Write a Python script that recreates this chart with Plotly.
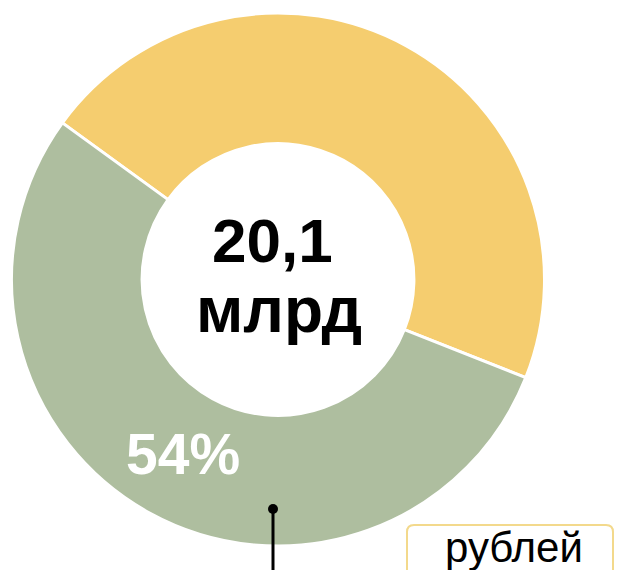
import plotly.graph_objects as go

# Data
categories = ["Прочее", "Основная доля"]
shares = [46, 54]
colors = ["#F5CD6F", "#AEBE9F"]
total_label_value = "20,1"
total_label_unit = "млрд"
unit_label = "рублей"

W, H = 618, 570

def px(x):
    return x / W

def py(y):
    return 1 - y / H

fig = go.Figure()
fig.add_trace(go.Pie(
    labels=categories,
    values=shares,
    sort=False,
    direction="clockwise",
    rotation=-54,
    hole=0.51,
    marker=dict(colors=colors, line=dict(color="white", width=3)),
    textinfo="none",
    hoverinfo="skip",
    showlegend=False,
    domain=dict(x=[px(11), px(545)], y=[py(546), py(13)]),
))

font_family = "Arial, Liberation Sans, sans-serif"
pct = round(100 * shares[1] / sum(shares))

annotations = [
    dict(x=px(272), y=py(240), text=f"<b>{total_label_value}</b>",
         font=dict(family=font_family, size=62, color="black")),
    dict(x=px(279), y=py(310), text=f"<b>{total_label_unit}</b>",
         font=dict(family=font_family, size=64, color="black")),
    dict(x=px(183), y=py(454), text=f"<b>{pct}%</b>",
         font=dict(family=font_family, size=57, color="white")),
    dict(x=px(514), y=py(547), text=unit_label,
         font=dict(family=font_family, size=42, color="black")),
]
for a in annotations:
    a.update(xref="paper", yref="paper", showarrow=False,
             xanchor="center", yanchor="middle")

shapes = [
    # pointer line and dot
    dict(type="line", xref="paper", yref="paper",
         x0=px(273), x1=px(273), y0=py(509), y1=py(575),
         line=dict(color="black", width=3)),
    dict(type="circle", xref="paper", yref="paper",
         x0=px(268), x1=px(278), y0=py(504), y1=py(514),
         fillcolor="black", line=dict(color="black", width=0)),
    # rounded box for unit label
    dict(type="path", xref="paper", yref="paper",
         path=(f"M {px(414)},{py(525)} L {px(606)},{py(525)} "
               f"Q {px(613)},{py(525)} {px(613)},{py(532)} "
               f"L {px(613)},{py(590)} L {px(407)},{py(590)} "
               f"L {px(407)},{py(532)} Q {px(407)},{py(525)} {px(414)},{py(525)} Z"),
         fillcolor="white", line=dict(color="#F3D98C", width=2), layer="below"),
]

fig.update_layout(
    width=W, height=H,
    margin=dict(l=0, r=0, t=0, b=0),
    paper_bgcolor="white",
    plot_bgcolor="white",
    annotations=annotations,
    shapes=shapes,
)

fig.write_html("out.html")
